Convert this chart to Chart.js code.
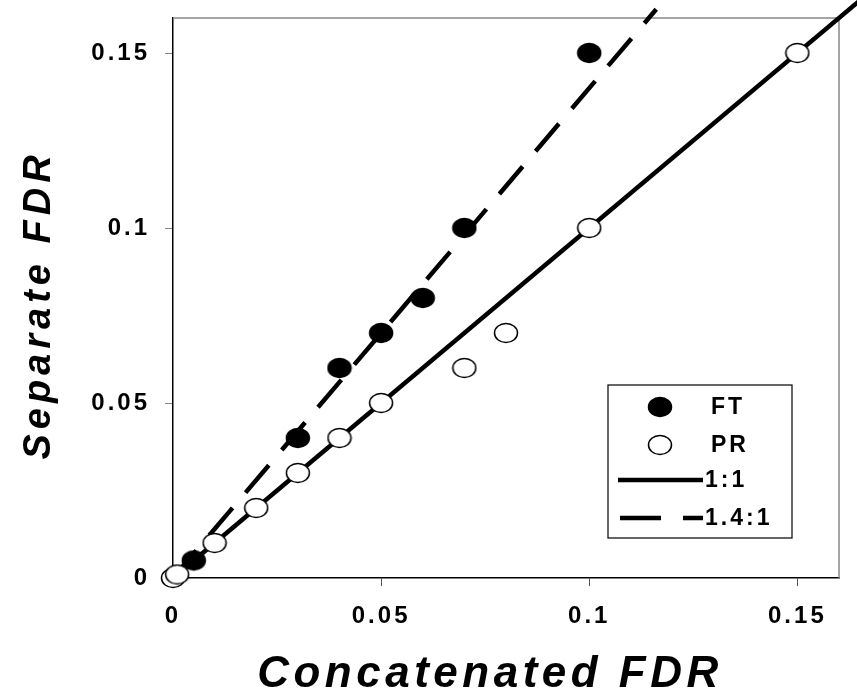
<!DOCTYPE html>
<html>
<head>
<meta charset="utf-8">
<script src="https://cdn.jsdelivr.net/npm/chart.js@4/dist/chart.umd.min.js"></script>
<style>
  html, body { margin: 0; padding: 0; background: #fff; }
  #wrap { width: 857px; height: 695px; }
</style>
</head>
<body>
<div id="wrap"><canvas id="fdr-chart" width="857" height="695"></canvas></div>
<script>
// FT (filled) and PR (open) points
const ftX = [0.005, 0.03, 0.04, 0.05, 0.06, 0.07, 0.1];
const ftY = [0.005, 0.04, 0.06, 0.07, 0.08, 0.1, 0.15];
const prX = [0, 0.001, 0.01, 0.02, 0.03, 0.04, 0.05, 0.07, 0.08, 0.1, 0.15];
const prY = [0, 0.001, 0.01, 0.02, 0.03, 0.04, 0.05, 0.06, 0.07, 0.1, 0.15];

// reference lines
const oneX = [0, 0.168];
const oneY = [0, 0.168];
const steepX = [0, 0.1161];
const steepY = [0, 0.1625];

const tickValues = [0, 0.05, 0.1, 0.15];
const tickLabels = ['0', '0.05', '0.1', '0.15'];
const legendLabels = ['FT', 'PR', '1:1', '1.4:1'];

const FONT = '"Liberation Sans", Arial, sans-serif';

function toPoints(xs, ys) {
    return xs.map((x, i) => ({ x: x, y: ys[i] }));
}

function ellipseMarker(fill) {
    const c = document.createElement('canvas');
    c.width = 26;
    c.height = 22;
    const g = c.getContext('2d');
    g.beginPath();
    g.ellipse(13, 11, 11.5, 9.5, 0, 0, 2 * Math.PI);
    g.fillStyle = fill;
    g.fill();
    g.lineWidth = 1.5;
    g.strokeStyle = '#000';
    g.stroke();
    return c;
}

const filledMarker = ellipseMarker('#000');
const openMarker = ellipseMarker('#fff');

// gray top/right frame, spacing for tick text
const framePlugin = {
    id: 'frame',
    beforeDraw(chart) {
        chart.ctx.letterSpacing = '3px';
    },
    beforeDatasetsDraw(chart) {
        const a = chart.chartArea;
        const ctx = chart.ctx;
        ctx.save();
        ctx.strokeStyle = '#888';
        ctx.lineWidth = 1.5;
        ctx.beginPath();
        ctx.moveTo(a.left, a.top);
        ctx.lineTo(a.right, a.top);
        ctx.lineTo(a.right, a.bottom);
        ctx.stroke();
        ctx.restore();
    }
};

// axis titles and legend box
const decorPlugin = {
    id: 'decor',
    afterDraw(chart) {
        const ctx = chart.ctx;
        ctx.save();
        ctx.fillStyle = '#000';
        ctx.letterSpacing = '4.5px';
        ctx.font = 'italic bold 44px ' + FONT;
        ctx.textAlign = 'center';
        ctx.textBaseline = 'alphabetic';
        ctx.fillText('Concatenated FDR', 490, 687);

        ctx.translate(50, 305);
        ctx.rotate(-Math.PI / 2);
        ctx.letterSpacing = '5px';
        ctx.font = 'italic bold 38px ' + FONT;
        ctx.fillText('Separate FDR', 0, 0);
        ctx.restore();

        // legend
        const box = { left: 608, top: 385, right: 792, bottom: 538 };
        const rows = [407, 445, 480, 518];
        ctx.save();
        ctx.fillStyle = '#fff';
        ctx.fillRect(box.left, box.top, box.right - box.left, box.bottom - box.top);
        ctx.strokeStyle = '#000';
        ctx.lineWidth = 1.2;
        ctx.strokeRect(box.left, box.top, box.right - box.left, box.bottom - box.top);

        ctx.drawImage(filledMarker, 660 - 13, rows[0] - 11);
        ctx.drawImage(openMarker, 660 - 13, rows[1] - 11);

        ctx.lineWidth = 4.5;
        ctx.beginPath();
        ctx.moveTo(618, rows[2]);
        ctx.lineTo(703, rows[2]);
        ctx.stroke();
        ctx.beginPath();
        ctx.moveTo(620, rows[3]);
        ctx.lineTo(661, rows[3]);
        ctx.moveTo(683, rows[3]);
        ctx.lineTo(703, rows[3]);
        ctx.stroke();

        ctx.fillStyle = '#000';
        ctx.font = 'bold 23px ' + FONT;
        ctx.letterSpacing = '3px';
        ctx.textAlign = 'left';
        ctx.textBaseline = 'middle';
        legendLabels.forEach((t, i) => {
            ctx.fillText(t, i < 2 ? 711 : 705, rows[i] + 1);
        });
        ctx.restore();
    }
};

function axisTicks(scale) {
    scale.ticks = tickValues.map(v => ({ value: v }));
}

const ctx = document.getElementById('fdr-chart').getContext('2d');
const fdrChart = new Chart(ctx, {
    type: 'scatter',
    data: {
        datasets: [
            {
                label: legendLabels[1],
                data: toPoints(prX, prY),
                pointStyle: openMarker,
                order: 0,
                clip: false
            },
            {
                label: legendLabels[0],
                data: toPoints(ftX, ftY),
                pointStyle: filledMarker,
                order: 1,
                clip: false
            },
            {
                label: legendLabels[2],
                data: toPoints(oneX, oneY),
                showLine: true,
                borderColor: '#000',
                borderWidth: 4.5,
                pointRadius: 0,
                order: 2,
                clip: false
            },
            {
                label: legendLabels[3],
                data: toPoints(steepX, steepY),
                showLine: true,
                borderColor: '#000',
                borderWidth: 4.5,
                borderDash: [36, 20],
                pointRadius: 0,
                order: 3,
                clip: false
            }
        ]
    },
    options: {
        responsive: false,
        animation: false,
        layout: { padding: { top: 18, right: 18, left: 0, bottom: 0 } },
        plugins: {
            legend: { display: false },
            tooltip: { enabled: false }
        },
        scales: {
            x: {
                type: 'linear',
                min: 0,
                max: 0.16,
                afterBuildTicks: axisTicks,
                afterFit(scale) {
                    scale.height = 117;
                    scale.paddingLeft = 0;
                    scale.paddingRight = 0;
                },
                ticks: {
                    callback: (v, i) => tickLabels[i],
                    color: '#000',
                    padding: 16,
                    maxRotation: 0,
                    font: { family: FONT, size: 24, weight: 'bold' }
                },
                grid: { drawOnChartArea: false, color: '#555', tickLength: 8 },
                border: { color: '#000', width: 1.5 }
            },
            y: {
                type: 'linear',
                min: 0,
                max: 0.16,
                afterBuildTicks: axisTicks,
                afterFit(scale) {
                    scale.width = 173;
                    scale.paddingTop = 0;
                    scale.paddingBottom = 0;
                },
                ticks: {
                    callback: (v, i) => tickLabels[i],
                    color: '#000',
                    padding: 15,
                    font: { family: FONT, size: 24, weight: 'bold' }
                },
                grid: { drawOnChartArea: false, color: '#888', tickLength: 8 },
                border: { color: '#000', width: 1.5 }
            }
        }
    },
    plugins: [framePlugin, decorPlugin]
});
</script>
</body>
</html>
